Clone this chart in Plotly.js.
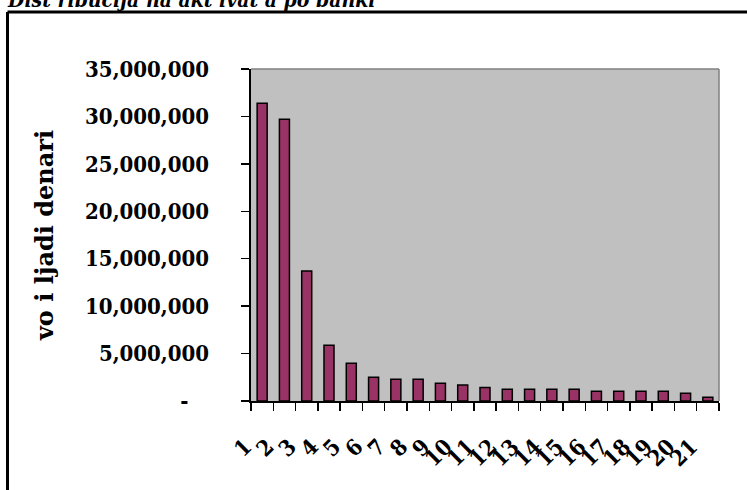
<!DOCTYPE html>
<html>
<head>
<meta charset="utf-8">
<script src="https://cdn.plot.ly/plotly-3.0.1.min.js"></script>
<style>
html,body{margin:0;padding:0;background:#fff;}
#chart{width:747px;height:490px;}
</style>
</head>
<body>
<div id="chart"></div>
<script>
const chartTitle = "Dist ribucija na akt ivat a po banki";
const yAxisTitle = "vo i ljadi denari";
const categories = ["1","2","3","4","5","6","7","8","9","10","11","12","13","14","15","16","17","18","19","20","21"];
const assets = [31400000, 29700000, 13700000, 5870000, 3970000, 2500000, 2290000, 2290000, 1870000, 1690000, 1420000, 1230000, 1230000, 1230000, 1230000, 1020000, 1020000, 1020000, 1020000, 810000, 390000];
const yTickVals = [0, 5000000, 10000000, 15000000, 20000000, 25000000, 30000000, 35000000];
const yTickLabels = ["-", "5,000,000", "10,000,000", "15,000,000", "20,000,000", "25,000,000", "30,000,000", "35,000,000"];

const L = 251, R = 719, T = 69, B = 401, W = 747, H = 490;
const pw = R - L, ph = B - T;
const px = v => (v - L) / pw;
const py = v => (B - v) / ph;

const serif = "DejaVu Serif Condensed, DejaVu Serif, serif";
const serifWide = "DejaVu Serif, serif";
const nb = n => "\u00a0".repeat(n);

const trace = {
  type: "bar",
  x: categories,
  y: assets,
  width: 0.45,
  marker: {color: "#993366", line: {color: "#000000", width: 1.5}},
  hoverinfo: "none"
};

const layout = {
  width: W, height: H,
  margin: {l: L, r: W - R, t: T, b: H - B, pad: 0},
  paper_bgcolor: "#ffffff",
  plot_bgcolor: "#c0c0c0",
  showlegend: false,
  bargap: 0,
  title: {
    text: "<b><i>" + chartTitle + "</i></b>",
    font: {family: serif, size: 21, color: "#000"},
    x: 8 / W, xanchor: "left",
    y: 1, yanchor: "middle",
    yref: "container", xref: "container",
    automargin: false
  },
  xaxis: {
    type: "category",
    range: [-0.5, categories.length - 0.5],
    tickmode: "linear", dtick: 1,
    showline: true, linecolor: "#000", linewidth: 2,
    ticks: "outside", ticklen: 8, tickwidth: 1.5, tickcolor: "#000",
    tickson: "boundaries",
    tickangle: -45,
    ticklabelstandoff: 22,
    ticklabelshift: -17,
    tickfont: {family: serif, size: 22, color: "#000", weight: "bold"},
    showgrid: false, zeroline: false, mirror: false
  },
  yaxis: {
    range: [0, 35000000],
    tickvals: yTickVals,
    ticktext: yTickLabels.map((t, i) => t + nb(i === 0 ? 7 : 4)),
    showline: true, linecolor: "#000", linewidth: 2,
    ticks: "outside", ticklen: 8, tickwidth: 1.5, tickcolor: "#000",
    tickfont: {family: serif, size: 22, color: "#000", weight: "bold"},
    showgrid: false, zeroline: false,
    title: {text: "<b>" + yAxisTitle + "</b>", font: {family: serifWide, size: 24, color: "#000"}, standoff: 25}
  },
  shapes: [
    {type: "line", xref: "paper", yref: "paper", x0: px(L), x1: px(R), y0: 1, y1: 1, line: {color: "#808080", width: 1.5}},
    {type: "line", xref: "paper", yref: "paper", x0: 1, x1: 1, y0: 0, y1: 1, line: {color: "#808080", width: 1.5}},
    {type: "line", xref: "paper", yref: "paper", x0: px(7.5), x1: px(760), y0: py(12), y1: py(12), line: {color: "#000", width: 3}},
    {type: "line", xref: "paper", yref: "paper", x0: px(7.5), x1: px(7.5), y0: py(12), y1: py(500), line: {color: "#000", width: 3}}
  ]
};

Plotly.newPlot("chart", [trace], layout, {staticPlot: true, displayModeBar: false});
</script>
</body>
</html>
